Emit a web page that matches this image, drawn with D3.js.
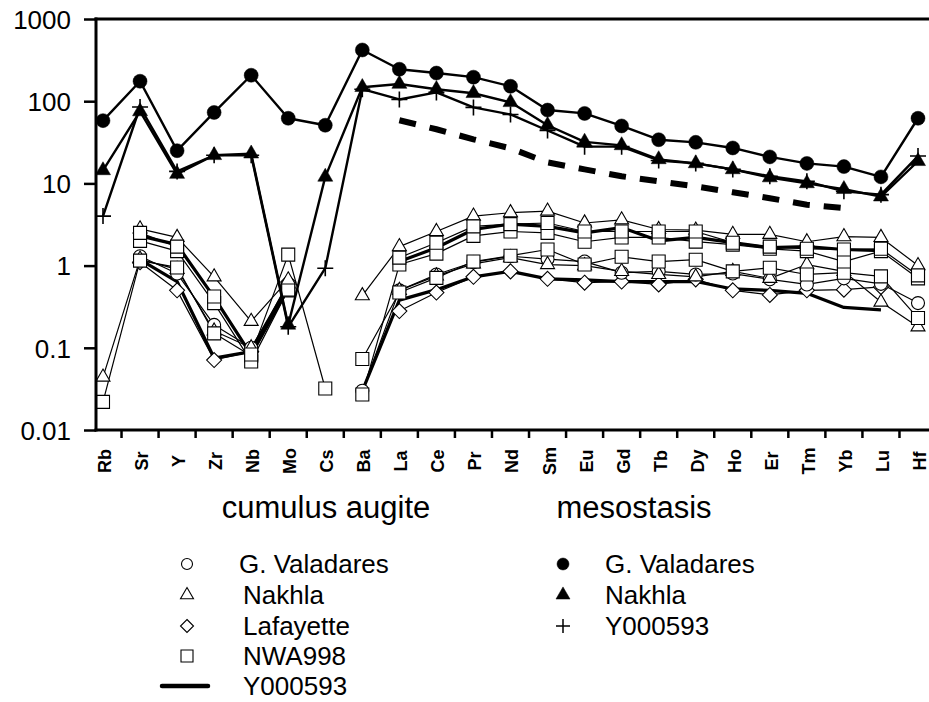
<!DOCTYPE html>
<html>
<head>
<meta charset="utf-8">
<script src="https://cdn.jsdelivr.net/npm/d3@7"></script>
<style>
  html, body { margin: 0; padding: 0; background: #fff; }
  svg { display: block; font-family: "Liberation Sans", Arial, sans-serif; }
</style>
</head>
<body>
<svg id="chart" width="929" height="702"></svg>
<script>
// ---------------- DATA ----------------
const elements = ["Rb","Sr","Y","Zr","Nb","Mo","Cs","Ba","La","Ce","Pr","Nd","Sm","Eu","Gd","Tb","Dy","Ho","Er","Tm","Yb","Lu","Hf"];
const yTicks = [0.01, 0.1, 1, 10, 100, 1000];
const yTickLabels = ["0.01", "0.1", "1", "10", "100", "1000"];

// mesostasis (filled symbols)
const mesoGValadares = [58,175,25,73,207,62,51,420,245,220,196,152,78,71,50,34,31.6,27,21,17.5,16,12,62];
const mesoNakhla     = [14.4,75,13,22,23,0.19,12,148,162,140,125,97,51,32,29,19.6,17.5,14.8,11.8,10,8.5,6.9,18.6];
const mesoY000593    = [4.0,85,14,22,22,0.18,0.93,140,105,128,84,69,44,28,28,19,17.5,14.8,12.2,10.6,8.0,7.3,21.5];

// cumulus augite (open symbols; no line between Cs and Ba)
const cpxNakhlaA = [null,2.8,2.2,0.73,0.21,0.67,null,0.43,1.7,2.6,4.0,4.4,4.6,3.3,3.6,2.75,2.7,2.4,2.4,1.95,2.25,2.2,1.0];
const cpxNakhlaB = [0.044,1.2,0.9,0.16,0.1,0.6,null,null,0.5,0.75,1.05,1.25,1.03,1.0,0.85,0.78,0.73,0.85,0.7,1.03,0.85,0.36,0.18];
const cpxNWA998A = [null,2.5,1.7,0.42,0.083,1.36,0.032,null,1.25,1.9,3.0,3.2,3.3,2.6,2.6,2.6,2.6,1.9,1.7,1.6,1.57,1.6,0.76];
const cpxNWA998B = [null,2.0,1.5,0.35,0.068,0.51,null,0.027,1.03,1.4,2.3,2.6,2.5,1.95,2.2,2.2,1.96,1.8,1.6,1.5,1.12,1.5,0.7];
const cpxNWA998C = [0.022,1.15,0.95,0.15,0.08,0.5,null,0.073,0.47,0.71,1.12,1.32,1.57,1.03,1.28,1.12,1.18,0.85,0.94,0.78,0.82,0.74,0.23];
const cpxGValadares = [null,1.3,0.8,0.19,0.1,0.55,null,0.030,0.5,0.78,1.1,1.3,1.2,1.12,0.82,0.85,0.78,0.8,0.68,0.59,0.7,0.6,0.35];
const cpxLafayette = [null,1.1,0.5,0.071,0.09,0.63,null,null,0.28,0.47,0.73,0.85,0.69,0.62,0.64,0.59,0.68,0.5,0.44,0.5,0.51,0.55,null];
const cpxY000593A = [null,2.3,1.8,0.41,0.082,0.55,null,null,1.12,1.65,2.75,3.2,3.0,2.5,2.9,2.0,2.2,1.9,1.65,1.7,1.57,1.52,null];
const cpxY000593B = [null,1.18,0.64,0.075,0.09,0.55,null,0.03,0.38,0.51,0.73,0.85,0.69,0.67,0.64,0.64,0.64,0.52,0.50,0.46,0.31,0.29,null];

// dashed reference line
const dashedLine = [null,null,null,null,null,null,null,null,58.7,45.6,34.4,26.7,18.0,14.8,12.2,10.6,9.2,7.8,6.6,5.5,5.0,null,null];

const groupLabels = ["cumulus augite", "mesostasis"];
const legendCumulus = ["G. Valadares", "Nakhla", "Lafayette", "NWA998", "Y000593"];
const legendMeso = ["G. Valadares", "Nakhla", "Y000593"];

(function () {
// ---------------- SETUP ----------------
const svg = d3.select("#chart");
const mLeft = 96, mRight = 929, mTop = 19, mBottom = 430;

const x = d3.scalePoint().domain(elements).range([103, 918]);
const y = d3.scaleLog().domain([0.01, 1000]).range([mBottom, mTop]);

// symbol paths
function symPath(type, s) {
  switch (type) {
    case "circle": return d3.symbol(d3.symbolCircle, Math.PI * s * s)();
    case "triangle": {
      const h = s * Math.sqrt(3) / 2;
      return `M0,${-h*2/3}L${s/2},${h/3}L${-s/2},${h/3}Z`;
    }
    case "square": return `M${-s/2},${-s/2}H${s/2}V${s/2}H${-s/2}Z`;
    case "diamond": return `M0,${-s}L${s},0L0,${s}L${-s},0Z`;
    case "plus": return `M${-s},0H${s}M0,${-s}V${s}`;
  }
}

const lineGen = d3.line()
  .defined(d => d.v != null)
  .x(d => x(d.e))
  .y(d => y(d.v));

function toPts(arr) { return arr.map((v, i) => ({ e: elements[i], v: v })); }

// ---------------- CUMULUS ----------------
const cumulusSeries = [
  { data: cpxY000593A, sym: null, width: 3.2 },
  { data: cpxY000593B, sym: null, width: 3.2 },
  { data: cpxLafayette, sym: "diamond", size: 7.5, width: 1.2 },
  { data: cpxGValadares, sym: "circle", size: 6.5, width: 1.2 },
  { data: cpxNakhlaB, sym: "triangle", size: 14, width: 1.2 },
  { data: cpxNWA998C, sym: "square", size: 13, width: 1.2 },
  { data: cpxNWA998B, sym: "square", size: 13, width: 1.2 },
  { data: cpxNakhlaA, sym: "triangle", size: 14, width: 1.2 },
  { data: cpxNWA998A, sym: "square", size: 13, width: 1.2 }
];

const gCum = svg.append("g");
cumulusSeries.forEach(s => {
  const pts = toPts(s.data);
  [pts.slice(0, 7), pts.slice(7)].forEach(seg => {
    gCum.append("path")
      .attr("d", lineGen(seg))
      .attr("fill", "none")
      .attr("stroke", "#000")
      .attr("stroke-width", s.width)
      .attr("stroke-linejoin", "round");
  });
});
cumulusSeries.forEach(s => {
  if (!s.sym) return;
  gCum.selectAll(null)
    .data(toPts(s.data).filter(d => d.v != null))
    .enter().append("path")
    .attr("transform", d => `translate(${x(d.e)},${y(d.v)})`)
    .attr("d", symPath(s.sym, s.size))
    .attr("fill", "#fff")
    .attr("stroke", "#000")
    .attr("stroke-width", 1.1);
});

// dashed line
svg.append("path")
  .attr("d", lineGen(toPts(dashedLine)))
  .attr("fill", "none")
  .attr("stroke", "#000")
  .attr("stroke-width", 6)
  .attr("stroke-dasharray", "17,14");

// ---------------- MESOSTASIS ----------------
const mesoSeries = [
  { data: mesoY000593, sym: "plus", size: 8 },
  { data: mesoNakhla, sym: "triangle", size: 15 },
  { data: mesoGValadares, sym: "circle", size: 7 }
];
const gMeso = svg.append("g");
mesoSeries.forEach(s => {
  gMeso.append("path")
    .attr("d", lineGen(toPts(s.data)))
    .attr("fill", "none")
    .attr("stroke", "#000")
    .attr("stroke-width", 2.4)
    .attr("stroke-linejoin", "round");
});
mesoSeries.forEach(s => {
  gMeso.selectAll(null)
    .data(toPts(s.data).filter(d => d.v != null))
    .enter().append("path")
    .attr("transform", d => `translate(${x(d.e)},${y(d.v)})`)
    .attr("d", symPath(s.sym, s.size))
    .attr("fill", s.sym === "plus" ? "none" : "#000")
    .attr("stroke", "#000")
    .attr("stroke-width", s.sym === "plus" ? 1.6 : 0.5);
});

// ---------------- AXES ----------------
const yAxis = d3.axisLeft(y)
  .tickValues(yTicks)
  .tickFormat((d, i) => yTickLabels[i])
  .tickSize(12)
  .tickPadding(13);
const gy = svg.append("g").attr("transform", `translate(${mLeft},0)`).call(yAxis);
gy.select(".domain").remove();
gy.selectAll(".tick line").attr("stroke", "#000").attr("stroke-width", 2.5);
gy.selectAll(".tick text")
  .attr("fill", "#000")
  .attr("dy", "0.36em")
  .style("font-family", "'Liberation Sans', Arial, sans-serif")
  .style("font-size", "26px");

// x labels
const xAxis = d3.axisBottom(x).tickSize(0).tickPadding(0);
const gx = svg.append("g").attr("transform", `translate(0,${mBottom})`).call(xAxis);
gx.select(".domain").remove();
gx.selectAll(".tick text")
  .attr("fill", "#000")
  .attr("transform", "translate(1,31) rotate(-90)")
  .attr("x", 0).attr("y", 0).attr("dy", "0.36em")
  .attr("text-anchor", "middle")
  .style("font-family", "'Liberation Sans', Arial, sans-serif")
  .style("font-weight", "bold")
  .style("font-size", "18px");

// x ticks at category boundaries
const boundaries = elements.slice(0, -1).map((e, i) => (x(e) + x(elements[i + 1])) / 2);
svg.append("g").selectAll("line").data(boundaries).enter().append("line")
  .attr("x1", d => d).attr("x2", d => d)
  .attr("y1", mBottom).attr("y2", mBottom + 8)
  .attr("stroke", "#000").attr("stroke-width", 2.5);

// frame lines
const frame = svg.append("g").attr("stroke", "#000").attr("stroke-width", 3).attr("stroke-linecap", "square");
frame.append("line").attr("x1", mLeft).attr("x2", mRight).attr("y1", mTop).attr("y2", mTop);
frame.append("line").attr("x1", mLeft).attr("x2", mLeft).attr("y1", mTop).attr("y2", mBottom);
frame.append("line").attr("x1", mLeft).attr("x2", mRight).attr("y1", mBottom).attr("y2", mBottom);

// ---------------- GROUP LABELS ----------------
svg.append("text").attr("x", 326).attr("y", 518).attr("text-anchor", "middle")
  .style("font-size", "31px").text(groupLabels[0]);
svg.append("text").attr("x", 634).attr("y", 518).attr("text-anchor", "middle")
  .style("font-size", "31px").text(groupLabels[1]);

// ---------------- LEGEND ----------------
const rowsY = [564, 595, 626, 656, 686];
const legCumSyms = ["circle", "triangle", "diamond", "square", "line"];
const legCumSizes = [5.5, 13, 6.5, 12, 0];
const gl = svg.append("g");
legendCumulus.forEach((name, i) => {
  const cy = rowsY[i];
  if (legCumSyms[i] === "line") {
    gl.append("line").attr("x1", 162).attr("x2", 208).attr("y1", cy).attr("y2", cy)
      .attr("stroke", "#000").attr("stroke-width", 4.5).attr("stroke-linecap", "round");
  } else {
    gl.append("path").attr("transform", `translate(187,${cy})`)
      .attr("d", symPath(legCumSyms[i], legCumSizes[i]))
      .attr("fill", "#fff").attr("stroke", "#000").attr("stroke-width", 1.1);
  }
  gl.append("text").attr("x", i === 0 ? 239 : 243).attr("y", cy + 9)
    .style("font-size", "26px").text(name);
});
const legMesoSyms = ["circle", "triangle", "plus"];
const legMesoSizes = [6, 14, 7];
legendMeso.forEach((name, i) => {
  const cy = rowsY[i];
  gl.append("path").attr("transform", `translate(563,${cy})`)
    .attr("d", symPath(legMesoSyms[i], legMesoSizes[i]))
    .attr("fill", legMesoSyms[i] === "plus" ? "none" : "#000")
    .attr("stroke", "#000").attr("stroke-width", legMesoSyms[i] === "plus" ? 1.5 : 0.5);
  gl.append("text").attr("x", 605).attr("y", cy + 9)
    .style("font-size", "26px").text(name);
});
})();
</script>
</body>
</html>
